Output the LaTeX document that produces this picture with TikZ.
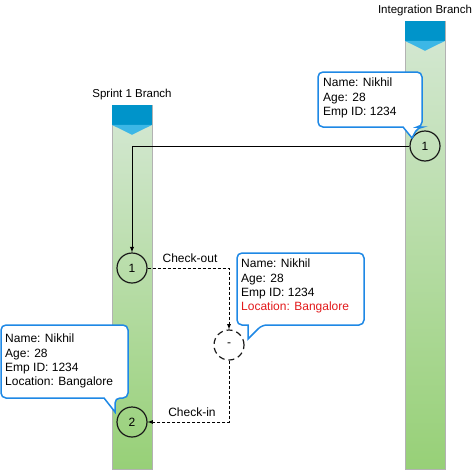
\documentclass[tikz,border=0pt]{standalone}
\usepackage{fontspec}
\setmainfont{Liberation Sans}
\usetikzlibrary{arrows,positioning,shapes}
\definecolor{barTop}{HTML}{D5E8D4}
\definecolor{barBot}{HTML}{97D077}
\definecolor{headDark}{HTML}{0094CA}
\definecolor{headLight}{HTML}{3CB7E6}
\definecolor{callLine}{HTML}{1E88E5}
\definecolor{locRed}{HTML}{E31A1C}

\begin{document}
\begin{tikzpicture}[x=1pt,y=-1pt]
\tikzstyle{bar}=[rectangle, draw=black!30, top color=barTop, bottom color=barBot, minimum width=40pt, inner sep=0pt]
\tikzstyle{commit}=[circle, minimum size=30pt, inner sep=0pt, line width=1.2pt, draw=black!90, font=\fontsize{12}{14}\selectfont]
\tikzstyle{temp}=[commit, dash pattern=on 6pt off 4pt]
\tikzstyle{connect}=[-latex, line width=0.9pt]
\tikzstyle{flow}=[-latex, line width=0.8pt, dash pattern=on 3pt off 2pt]
\tikzstyle{callout}=[draw=callLine, line width=1.5pt, fill=white, rounded corners=5pt]
\tikzstyle{note}=[anchor=north west, align=left, inner sep=0pt, font=\fontsize{12}{14.3}\selectfont]
\tikzstyle{lbl}=[font=\fontsize{11.5}{13}\selectfont]

\useasboundingbox (0,0) rectangle (476,471);

  % branches
  \node[bar, minimum height=448pt] (intbar) at (425,245) {};
  \node[bar, minimum height=364pt] (sprbar) at (132,287) {};
  \foreach \b in {intbar,sprbar} {
    \fill[headDark] (\b.north west) rectangle ([yshift=-20pt]\b.north east);
    \fill[headLight] ([yshift=-20pt]\b.north west) -- ([yshift=-20pt]\b.north east)
      -- ([yshift=-30pt]\b.north) -- cycle;
  }
  \node[lbl] (intlbl) [above=1pt of intbar] {Integration Branch};
  \node[lbl] (sprlbl) [above=1pt of sprbar] {Sprint 1 Branch};

  % commits
  \node[commit] (int1) at (425,146) {1};
  \node[commit] (spr1) at (132,268) {1};
  \node[temp]   (tmp)  at (229,345) {-};
  \node[commit] (spr2) at (132,422) {2};

  % callouts
  \draw[callout] (318,72) -- (422,72) -- (422,127) -- (418,127)
    [sharp corners] -- (412,138) -- (403,127) [rounded corners=5pt] -- (318,127) -- cycle;
  \node[note] (int1note) at (323,78) {Name: Nikhil\\Age: 28\\Emp ID: 1234};

  \draw[callout] (237,253) -- (364,253) -- (364,325) -- (262,325)
    [sharp corners] -- (248,339) -- (248,325) [rounded corners=5pt] -- (237,325) -- cycle;
  \node[note] (tmpnote) at (241,259) {Name: Nikhil\\Age: 28\\Emp ID: 1234\\
    \textcolor{locRed}{Location: Bangalore}};

  \draw[callout] (1,325) -- (128,325) -- (128,398) -- (115,398)
    [sharp corners] -- (115,412) -- (104,398) [rounded corners=5pt] -- (1,398) -- cycle;
  \node[note] (spr2note) at (5,334) {Name: Nikhil\\Age: 28\\Emp ID: 1234\\Location: Bangalore};

  % merges
  \draw[connect] (int1.west) -| (spr1.north);
  \draw[flow] (spr1.east) -| (tmp.north);
  \draw[flow] (tmp.south) |- (spr2.east);
  \node[lbl, font=\fontsize{12}{14}\selectfont] (outlbl) at (190,258) {Check-out};
  \node[lbl, font=\fontsize{12}{14}\selectfont] (inlbl) at (192,412) {Check-in};

\end{tikzpicture}
\end{document}
